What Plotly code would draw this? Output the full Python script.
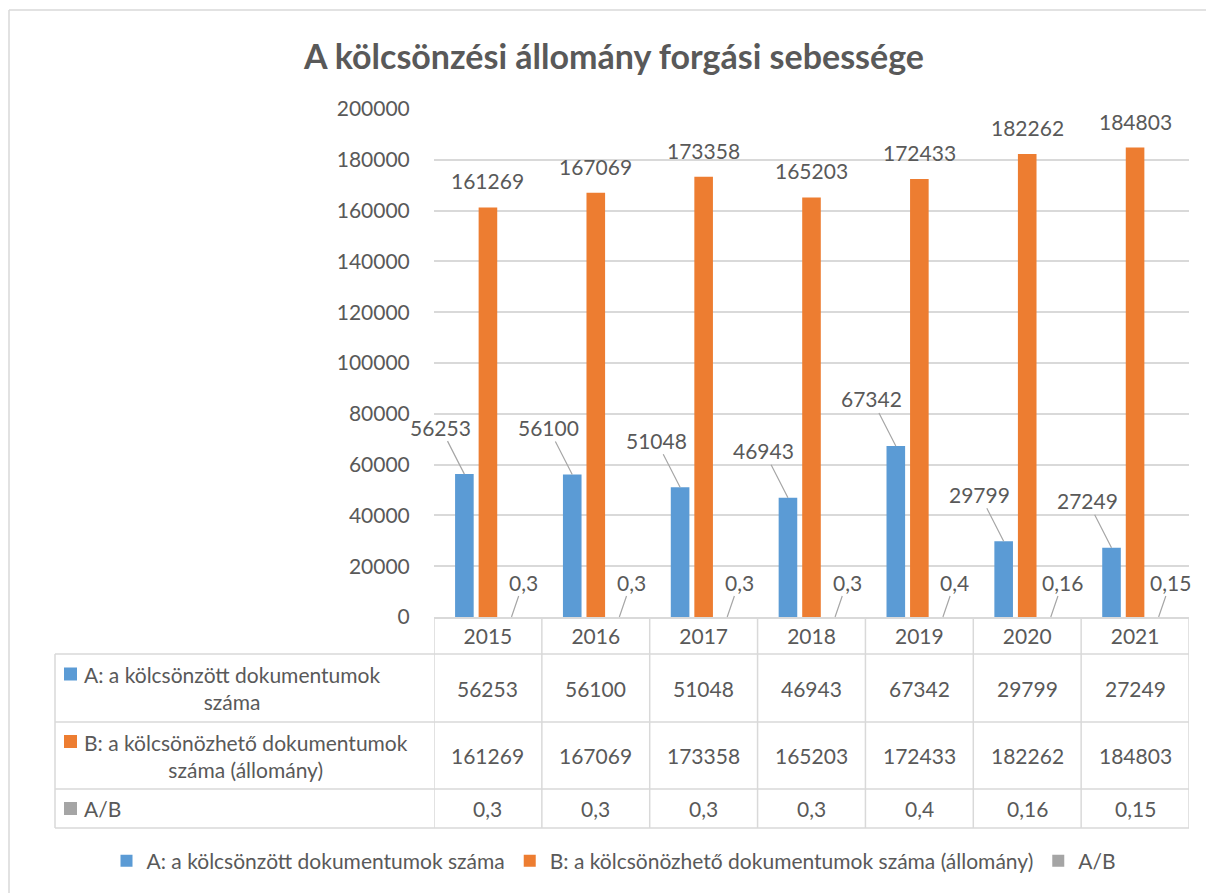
import plotly.graph_objects as go

# ---------------- data ----------------
years = ["2015", "2016", "2017", "2018", "2019", "2020", "2021"]
borrowed = [56253, 56100, 51048, 46943, 67342, 29799, 27249]          # A
holdings = [161269, 167069, 173358, 165203, 172433, 182262, 184803]   # B
ratio = [0.3, 0.3, 0.3, 0.3, 0.4, 0.16, 0.15]                          # A/B

series_names = [
    "A: a kölcsönzött dokumentumok száma",
    "B: a kölcsönözhető dokumentumok száma (állomány)",
    "A/B",
]
table_labels = [
    "A: a kölcsönzött dokumentumok<br>száma",
    "B: a kölcsönözhető dokumentumok<br>száma (állomány)",
    "A/B",
]
title_text = "A kölcsönzési állomány forgási sebessége"
y_ticks = [0, 20000, 40000, 60000, 80000, 100000, 120000, 140000, 160000, 180000, 200000]

# ---------------- style / geometry ----------------
colors = ["#5B9BD5", "#ED7D31", "#A5A5A5"]
TXT = "#595959"
GRID = "#D9D9D9"
LEAD = "#A6A6A6"
FONT = "Lato, 'Open Sans', sans-serif"
FS = 21

W, H = 1206, 893


def px(x):
    return x / W


def py(y):
    return 1 - y / H


PLOT_L, PLOT_R = 434, 1189
PLOT_T, PLOT_B = 109, 617
TABLE_L = 55
ROW_LINES = [617, 654, 722, 789, 828]
BARGAP = 0.345
BARGROUPGAP = 0.21
SLOT = (1 - BARGAP) / 3  # offset of side bars in category units

fig = go.Figure()
series_values = [borrowed, holdings, ratio]
for name, vals, col in zip(series_names, series_values, colors):
    fig.add_trace(go.Bar(x=years, y=vals, name=name, marker_color=col,
                         marker_line_width=0, hoverinfo="x+y+name"))

annotations = []
shapes = []


def fmt(v):
    if isinstance(v, float):
        return ("%g" % v).replace(".", ",")
    return str(v)


# data labels
for i in range(len(years)):
    # blue with leader line
    annotations.append(dict(x=i - SLOT, y=borrowed[i], xref="x", yref="y",
                            text=fmt(borrowed[i]), showarrow=True, arrowhead=0,
                            arrowwidth=1.2, arrowcolor=LEAD, ax=-24, ay=-47,
                            font=dict(family=FONT, size=FS, color=TXT)))
    # orange above
    annotations.append(dict(x=i, y=holdings[i], xref="x", yref="y",
                            text=fmt(holdings[i]), showarrow=False,
                            xanchor="center", yanchor="bottom", yshift=12,
                            font=dict(family=FONT, size=FS, color=TXT)))
    # grey with leader line
    annotations.append(dict(x=i + SLOT, y=ratio[i], xref="x", yref="y",
                            text=fmt(ratio[i]), showarrow=True, arrowhead=0,
                            arrowwidth=1.2, arrowcolor=LEAD, ax=12, ay=-35,
                            font=dict(family=FONT, size=FS, color=TXT)))

# data table
row_centers = [(ROW_LINES[k] + ROW_LINES[k + 1]) / 2 for k in range(1, 4)]
for r, vals in enumerate(series_values):
    for i, v in enumerate(vals):
        annotations.append(dict(x=i, y=py(row_centers[r]), xref="x", yref="paper",
                                text=fmt(v), showarrow=False,
                                xanchor="center", yanchor="middle",
                                font=dict(family=FONT, size=FS, color=TXT)))
    # row label
    n_lines = table_labels[r].count("<br>") + 1
    annotations.append(dict(x=px(82), y=py(row_centers[r]), xref="paper", yref="paper",
                            text=table_labels[r], showarrow=False,
                            xanchor="left", yanchor="middle",
                            align="center" if n_lines > 1 else "left",
                            font=dict(family=FONT, size=FS, color=TXT)))
    # legend key square
    top = row_centers[r] - (14 if n_lines > 1 else 0) - 6.5
    shapes.append(dict(type="rect", xref="paper", yref="paper",
                       x0=px(64), x1=px(77), y0=py(top), y1=py(top + 13),
                       fillcolor=colors[r], line=dict(width=0)))

# table grid lines
for k in range(len(years) + 1):
    shapes.append(dict(type="line", xref="x", yref="paper", x0=k - 0.5, x1=k - 0.5,
                       y0=py(ROW_LINES[0]), y1=py(ROW_LINES[-1]),
                       line=dict(color=GRID, width=1.5)))
for yl in ROW_LINES[1:]:
    shapes.append(dict(type="line", xref="paper", yref="paper", x0=px(TABLE_L), x1=px(PLOT_R),
                       y0=py(yl), y1=py(yl), line=dict(color=GRID, width=1.5)))
shapes.append(dict(type="line", xref="paper", yref="paper", x0=px(TABLE_L), x1=px(TABLE_L),
                   y0=py(ROW_LINES[1]), y1=py(ROW_LINES[-1]), line=dict(color=GRID, width=1.5)))

# outer chart border (top and left visible)
shapes.append(dict(type="line", xref="paper", yref="paper", x0=px(9), x1=1,
                   y0=py(10), y1=py(10), line=dict(color=GRID, width=1.5)))
shapes.append(dict(type="line", xref="paper", yref="paper", x0=px(9), x1=px(9),
                   y0=py(10), y1=0, line=dict(color=GRID, width=1.5)))

fig.update_layout(
    width=W, height=H,
    margin=dict(l=0, r=0, t=0, b=0, autoexpand=False),
    paper_bgcolor="white", plot_bgcolor="white",
    barmode="group", bargap=BARGAP, bargroupgap=BARGROUPGAP,
    title=dict(text="<b>" + title_text + "</b>", x=px(614), y=py(57),
               xanchor="center", yanchor="middle",
               font=dict(family=FONT, size=34, color=TXT)),
    font=dict(family=FONT, size=FS, color=TXT),
    xaxis=dict(domain=[px(PLOT_L), px(PLOT_R)], type="category",
               range=[-0.5, len(years) - 0.5], autorange=False,
               showgrid=False, showline=True, linecolor=GRID, linewidth=1.5,
               ticks="", tickfont=dict(family=FONT, size=FS, color=TXT),
               automargin=False, fixedrange=True),
    yaxis=dict(domain=[py(PLOT_B), py(PLOT_T)], range=[0, 200000], autorange=False,
               tickvals=y_ticks, tickformat="d", showgrid=True, gridcolor=GRID,
               gridwidth=1.5, zeroline=False, showline=False,
               ticks="outside", ticklen=19, tickcolor="rgba(0,0,0,0)",
               automargin=False,
               tickfont=dict(family=FONT, size=FS, color=TXT), fixedrange=True),
    legend=dict(orientation="h", x=px(614), xanchor="center", y=py(861), yanchor="middle",
                font=dict(family=FONT, size=FS, color=TXT), itemclick=False,
                itemdoubleclick=False, tracegroupgap=0),
    showlegend=True,
    annotations=annotations,
    shapes=shapes,
)

fig.write_html("out.html", config={"displayModeBar": False},
               post_script="document.body.style.margin='0';")
